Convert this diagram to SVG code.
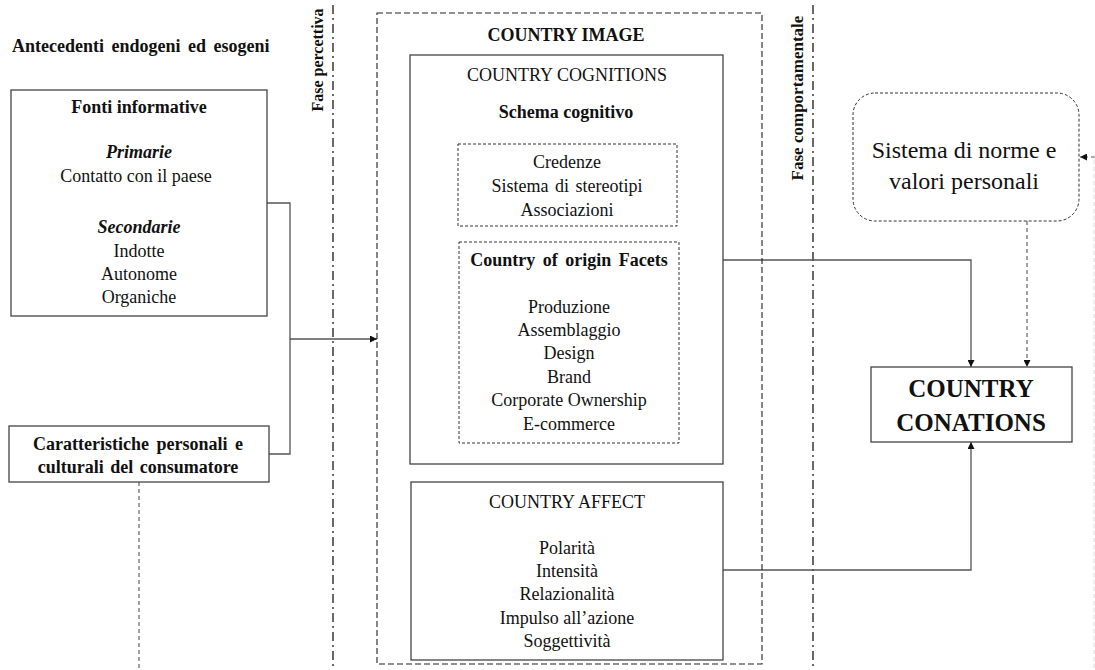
<svg xmlns="http://www.w3.org/2000/svg" width="1095" height="670" viewBox="0 0 1095 670">
<defs>
<style>
text{font-family:"Liberation Serif","Times New Roman",serif;fill:#111;}
.t{font-size:18px;text-anchor:middle;}
.b{font-weight:bold;}
.bi{font-weight:bold;font-style:italic;}
.box{fill:#fff;stroke:#444;stroke-width:1.3;}
.dbox{fill:none;stroke:#222;stroke-width:1.1;stroke-dasharray:6 3;}
.sdbox{fill:none;stroke:#333;stroke-width:1;stroke-dasharray:3 2;}
.phase{stroke:#444;stroke-width:1.6;stroke-dasharray:9 4 2 4;fill:none;}
.con{fill:none;stroke:#555;stroke-width:1.3;}
.dcon{fill:none;stroke:#555;stroke-width:1.1;stroke-dasharray:4 3;}
</style>
<marker id="ah" viewBox="0 0 10 10" refX="10" refY="5" markerWidth="7" markerHeight="7" markerUnits="userSpaceOnUse" orient="auto">
<path d="M0,0 L10,5 L0,10 z" fill="#111"/>
</marker>
</defs>
<rect width="1095" height="670" fill="#fff"/>

<g id="phases">
<line class="phase" x1="333" y1="5" x2="333" y2="670"/>
<line class="phase" x1="813" y1="5" x2="813" y2="670"/>
<text class="b" font-size="16" text-anchor="middle" transform="translate(323,60) rotate(-90)">Fase percettiva</text>
<text class="b" font-size="17" text-anchor="middle" transform="translate(803,98) rotate(-90)">Fase comportamentale</text>
</g>

<g id="header">
<text class="b" font-size="18" x="12" y="52" word-spacing="3">Antecedenti endogeni ed esogeni</text>
</g>

<g id="connectors">
<polyline class="con" points="267,203 290,203 290,454 269,454"/>
<line class="con" x1="290" y1="339" x2="377" y2="339" marker-end="url(#ah)"/>
<line class="dcon" x1="139" y1="482" x2="139" y2="670"/>
<polyline class="con" points="723,260 971,260 971,367" marker-end="url(#ah)"/>
<polyline class="con" points="723,570 971,570 971,442" marker-end="url(#ah)"/>
<line class="dcon" x1="1027" y1="221" x2="1027" y2="367" marker-end="url(#ah)"/>
<line class="dcon" x1="1095" y1="157" x2="1080" y2="157" marker-end="url(#ah)"/>
<line x1="1094" y1="160" x2="1094" y2="670" stroke="#ddd" stroke-width="1" stroke-dasharray="4 3"/>
</g>

<g id="fonti">
<rect class="box" x="11" y="90" width="256" height="226"/>
<text class="t b" x="139" y="113">Fonti informative</text>
<text class="t bi" x="139" y="158">Primarie</text>
<text class="t" x="136" y="182" font-size="20">Contatto con il paese</text>
<text class="t bi" x="139" y="233">Secondarie</text>
<text class="t" x="139" y="257">Indotte</text>
<text class="t" x="139" y="280">Autonome</text>
<text class="t" x="139" y="303">Organiche</text>
</g>

<g id="caratteristiche">
<rect class="box" x="9" y="426" width="260" height="56"/>
<text class="t b" x="138" y="450" word-spacing="3">Caratteristiche personali e</text>
<text class="t b" x="138" y="473" word-spacing="2">culturali del consumatore</text>
</g>

<g id="country-image">
<rect class="dbox" x="377" y="13" width="385" height="651"/>
<text class="t b" x="566" y="41">COUNTRY IMAGE</text>
</g>

<g id="country-cognitions">
<rect class="box" x="410" y="55" width="313" height="409"/>
<text class="t" x="567" y="81">COUNTRY COGNITIONS</text>
<text class="t b" x="566" y="118">Schema cognitivo</text>
</g>

<g id="schema">
<rect class="sdbox" x="458" y="144" width="219" height="82"/>
<text class="t" x="567" y="168">Credenze</text>
<text class="t" x="567" y="192" word-spacing="2">Sistema di stereotipi</text>
<text class="t" x="567" y="216">Associazioni</text>
</g>

<g id="facets">
<rect class="sdbox" x="459" y="242" width="220" height="201"/>
<text class="t b" x="569" y="266" word-spacing="3">Country of origin Facets</text>
<text class="t" x="569" y="313">Produzione</text>
<text class="t" x="569" y="336">Assemblaggio</text>
<text class="t" x="569" y="359">Design</text>
<text class="t" x="569" y="383">Brand</text>
<text class="t" x="569" y="406">Corporate Ownership</text>
<text class="t" x="569" y="430">E-commerce</text>
</g>

<g id="country-affect">
<rect class="box" x="411" y="482" width="312" height="178"/>
<text class="t" x="567" y="508">COUNTRY AFFECT</text>
<text class="t" x="567" y="554">Polarità</text>
<text class="t" x="567" y="577">Intensità</text>
<text class="t" x="567" y="600">Relazionalità</text>
<text class="t" x="567" y="624">Impulso all’azione</text>
<text class="t" x="567" y="647">Soggettività</text>
</g>

<g id="sistema">
<rect class="sdbox" x="853" y="93" width="226" height="128" rx="22" ry="22"/>
<text font-size="24" text-anchor="middle" x="964" y="158">Sistema di norme e</text>
<text font-size="24" text-anchor="middle" x="964" y="189">valori personali</text>
</g>

<g id="conations">
<rect class="box" x="871" y="367" width="201" height="75"/>
<text class="b" font-size="25" text-anchor="middle" x="971" y="397">COUNTRY</text>
<text class="b" font-size="25" text-anchor="middle" x="971" y="431">CONATIONS</text>
</g>
</svg>
